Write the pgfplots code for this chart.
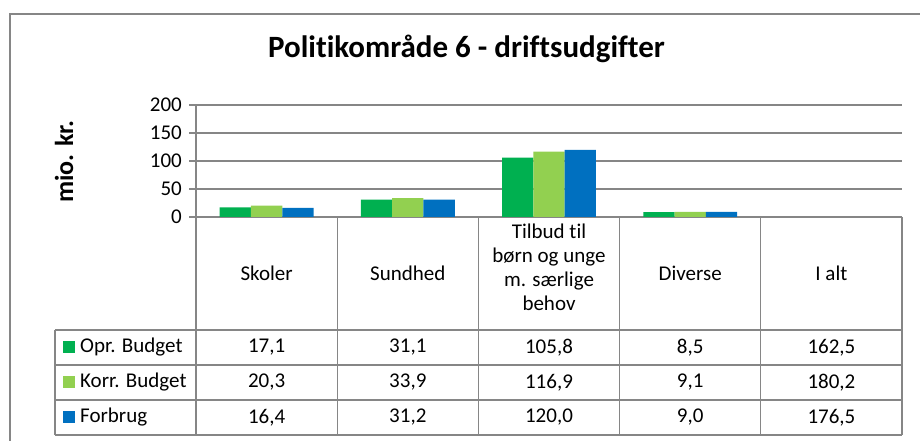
\documentclass[border=0pt]{standalone}
\usepackage{pgfplots}
\pgfplotsset{compat=1.18}
\usepackage{fontspec}
\setmainfont[Ligatures=NoCommon]{Carlito}
\definecolor{oprc}{HTML}{00B050}
\definecolor{korrc}{HTML}{92D050}
\definecolor{forc}{HTML}{0070C0}
\definecolor{gridc}{HTML}{868686}
\begin{document}
\begin{tikzpicture}[x=1pt,y=1pt]
\useasboundingbox (0,0) rectangle (920,441);
% outer chart border
\draw[gridc, line width=1.5pt] (10,-5) -- (10,427) -- (925,427);
% title
\node[anchor=base, font=\fontsize{31}{37}\selectfont\bfseries, inner sep=0pt] at (466.5,383) {Polit\kern0pt ikområde 6 - drif\kern0pt tsudgif\kern0pt ter};
% y label
\node[rotate=90, font=\fontsize{26}{31}\selectfont\bfseries, inner sep=0pt] at (64,279.5) {mio. kr.};
\begin{axis}[
  at={(196pt,224pt)}, anchor=south west,
  scale only axis, width=706pt, height=112pt,
  xmin=0, xmax=5, ymin=0, ymax=200,
  ytick={0,50,100,150,200}, xtick=\empty,
  axis lines*=left,
  axis line style={gridc, line width=1.3pt, -},
  ymajorgrids, grid style={gridc, line width=1.3pt},
  tick align=outside, ytick pos=left,
  major tick length=7pt,
  tick style={gridc, line width=1.3pt},
  /pgf/number format/assume math mode=true,
  yticklabel style={font=\fontsize{21}{25}\selectfont, inner sep=0pt, xshift=-7pt},
  ybar=0pt, bar width=31.3pt,
  clip=false,
]
\addplot[fill=oprc, draw=none] coordinates {(0.5,17.1) (1.5,31.1) (2.5,105.8) (3.5,8.5)};
\addplot[fill=korrc, draw=none] coordinates {(0.5,20.3) (1.5,33.9) (2.5,116.9) (3.5,9.1)};
\addplot[fill=forc, draw=none] coordinates {(0.5,16.4) (1.5,31.2) (2.5,120.0) (3.5,9.0)};
\end{axis}
% data table
\begin{scope}[gridc, line width=1.3pt]
\foreach \x in {196,337.2,478.4,619.6,760.8,902} { \draw (\x,224) -- (\x,6); }
\draw (55,111) -- (55,6);
\foreach \y in {111,76,41,6} { \draw (55,\y) -- (902,\y); }
\end{scope}
\begin{scope}[font=\fontsize{21}{24}\selectfont]
\node[align=center] at (266.6,167.5) {Skoler};
\node[align=center] at (407.8,167.5) {Sundhed};
\node[align=center] at (549.0,174) {Tilbud t\kern0pt il\\børn og unge\\m. særlige\\behov};
\node[align=center] at (690.2,167.5) {Diverse};
\node[align=center] at (831.4,167.5) {I alt};
% rows
\fill[oprc] (63,88) rectangle (75,100);
\node[anchor=west, inner sep=0pt] at (80,93.5) {Opr. Budget};
\fill[korrc] (63,53) rectangle (75,65);
\node[anchor=west, inner sep=0pt] at (80,58.5) {Korr. Budget};
\fill[forc] (63,18) rectangle (75,30);
\node[anchor=west, inner sep=0pt] at (80,23.5) {Forbrug};
\node at (266.6,93.5) {17,1}; \node at (407.8,93.5) {31,1}; \node at (549.0,93.5) {105,8}; \node at (690.2,93.5) {8,5}; \node at (831.4,93.5) {162,5};
\node at (266.6,58.5) {20,3}; \node at (407.8,58.5) {33,9}; \node at (549.0,58.5) {116,9}; \node at (690.2,58.5) {9,1}; \node at (831.4,58.5) {180,2};
\node at (266.6,23.5) {16,4}; \node at (407.8,23.5) {31,2}; \node at (549.0,23.5) {120,0}; \node at (690.2,23.5) {9,0}; \node at (831.4,23.5) {176,5};
\end{scope}
\end{tikzpicture}
\end{document}
